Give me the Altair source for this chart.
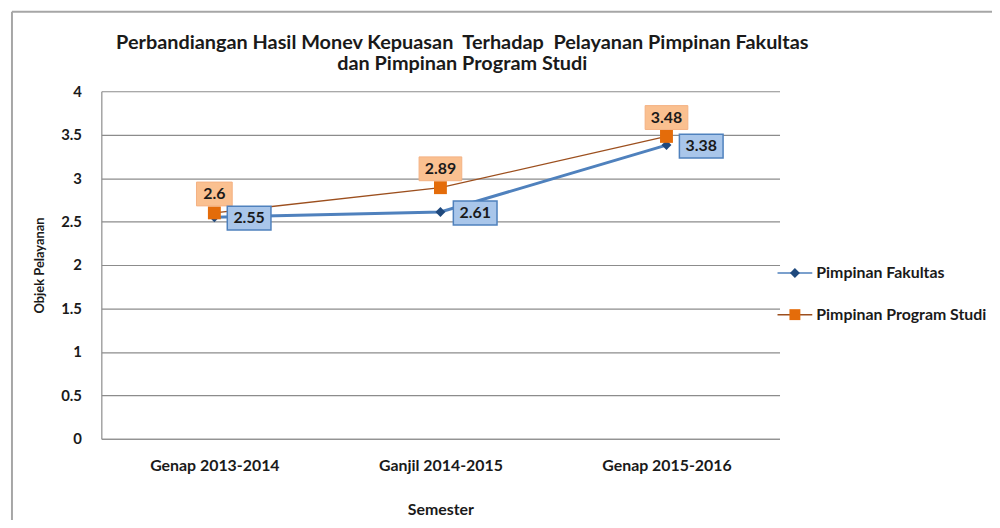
import altair as alt
import pandas as pd

# ---- data ----
semesters = ["Genap 2013-2014", "Ganjil 2014-2015", "Genap 2015-2016"]
series_names = ["Pimpinan Fakultas", "Pimpinan Program Studi"]
fakultas = [2.55, 2.61, 3.38]
prodi = [2.6, 2.89, 3.48]
y_ticks = [0, 0.5, 1, 1.5, 2, 2.5, 3, 3.5, 4]
title_lines = [
    "Perbandiangan Hasil Monev Kepuasan \u00a0Terhadap \u00a0Pelayanan Pimpinan Fakultas",
    "dan Pimpinan Program Studi",
]

rows = []
for name, vals in zip(series_names, [fakultas, prodi]):
    for sem, v in zip(semesters, vals):
        lab = f"{v:g}"
        rows.append({"semester": sem, "series": name, "value": v,
                     "label": lab, "nchar": len(lab)})
df = pd.DataFrame(rows)
df_f = df[df.series == series_names[0]]
df_p = df[df.series == series_names[1]]
df_leg = pd.DataFrame({"series": series_names})

# ---- style ----
FONT = "Lato"
TXT = "#1a1a1a"
GRID = "#8c8c8c"
BLUE_LINE = "#4F81BD"
BLUE_MARK = "#1F497D"
BROWN_LINE = "#9C4F1E"
ORANGE_MARK = "#E46C0A"
ORANGE_BOX = "#FAC090"
ORANGE_BOX_EDGE = "#F4B183"
BLUE_BOX = "#A9C6EA"

W, H = 683, 350

xs = alt.Scale(type="point", domain=semesters, padding=0.5)
ys = alt.Scale(domain=[0, 4], nice=False, zero=True)
color_scale = alt.Scale(domain=series_names, range=[BLUE_LINE, BROWN_LINE])

x_enc = alt.X(
    "semester:N", scale=xs, sort=semesters,
    axis=alt.Axis(title="Semester", labelAngle=0, ticks=False, tickSize=0,
                  labelPadding=19, titlePadding=28, domainColor=GRID,
                  domainWidth=1.2, grid=False,
                  labelFont=FONT, labelFontSize=16, labelFontWeight="bold",
                  labelColor=TXT, titleFont=FONT, titleFontSize=16,
                  titleFontWeight="bold", titleColor=TXT),
)
y_enc = alt.Y(
    "value:Q", scale=ys,
    axis=alt.Axis(title="Objek Pelayanan", values=y_ticks, format="~g",
                  ticks=False, tickSize=0, labelPadding=20, grid=True,
                  gridColor=GRID, gridWidth=1.2, domainColor=GRID,
                  domainWidth=1.2, labelFont=FONT, labelFontSize=15,
                  labelFontWeight="bold", labelColor=TXT, titleFont=FONT,
                  titleFontSize=13, titleFontWeight="bold", titleColor=TXT,
                  titlePadding=14),
)
x_plain = alt.X("semester:N", scale=xs, sort=semesters)
y_plain = alt.Y("value:Q", scale=ys)

lines = alt.Chart(df).mark_line().encode(
    x=x_enc, y=y_enc,
    color=alt.Color("series:N", scale=color_scale, legend=None),
    strokeWidth=alt.StrokeWidth("series:N", scale=alt.Scale(
        domain=series_names, range=[3, 1.4]), legend=None),
    order=alt.Order("series:N", sort="descending"),
)

marks_f = alt.Chart(df_f).mark_point(
    shape="diamond", size=100, filled=True, fill=BLUE_MARK, opacity=1
).encode(x=x_plain, y=y_plain)

marks_p = alt.Chart(df_p).mark_point(
    shape="square", size=169, filled=True, fill=ORANGE_MARK, opacity=1
).encode(x=x_plain, y=y_plain)

# label boxes (custom shapes, offset from the data point)
box_o_wide = "M-1,-1.442H1V-0.326H-1Z"
box_o_narrow = "M-0.837,-1.442H0.837V-0.326H-0.837Z"
box_b = "M0.591,-0.5H2.591V0.591H0.591Z"

boxes_p = alt.Chart(df_p).mark_point(
    size=1849, filled=True, fill=ORANGE_BOX, stroke=ORANGE_BOX_EDGE,
    strokeWidth=1, opacity=1
).encode(x=x_plain, y=y_plain,
         shape=alt.condition("datum.nchar < 4", alt.value(box_o_narrow),
                             alt.value(box_o_wide)))

boxes_f = alt.Chart(df_f).mark_point(
    shape=box_b, size=1936, filled=True, fill=BLUE_BOX, stroke=BLUE_LINE,
    strokeWidth=1.5, opacity=1
).encode(x=x_plain, y=y_plain)

text_p = alt.Chart(df_p).mark_text(
    dy=-19, font=FONT, fontSize=16, fontWeight="bold", color=TXT,
    align="center", baseline="middle"
).encode(x=x_plain, y=y_plain, text="label:N")

text_f = alt.Chart(df_f).mark_text(
    dx=35, dy=1, font=FONT, fontSize=16, fontWeight="bold", color=TXT,
    align="center", baseline="middle"
).encode(x=x_plain, y=y_plain, text="label:N")

# outer chart frame (top and left edge visible in the reference)
frame_top = alt.Chart(df.head(1)).mark_rule(color="#a6a6a6", strokeWidth=2).encode(
    x=alt.value(-90), x2=alt.value(900), y=alt.value(-80))
frame_left = alt.Chart(df.head(1)).mark_rule(color="#a6a6a6", strokeWidth=2).encode(
    x=alt.value(-90), y=alt.value(-80), y2=alt.value(460))

main = alt.layer(frame_top, frame_left, lines, marks_f, marks_p,
                 boxes_p, boxes_f, text_p, text_f)

# ---- legend (drawn as marks on the right) ----
leg_y = alt.Y("series:N", scale=alt.Scale(type="point", domain=series_names,
              range=[183, 225], padding=0), axis=None)
leg_line = alt.Chart(df_leg).mark_rule(strokeWidth=1.5).encode(
    x=alt.value(681), x2=alt.value(716), y=leg_y,
    color=alt.Color("series:N", scale=color_scale, legend=None))
leg_mark = alt.Chart(df_leg).mark_point(filled=True, opacity=1, strokeWidth=0).encode(
    x=alt.value(698.5), y=leg_y,
    shape=alt.Shape("series:N", scale=alt.Scale(domain=series_names,
                    range=["diamond", "square"]), legend=None),
    size=alt.Size("series:N", scale=alt.Scale(domain=series_names,
                  range=[100, 121]), legend=None),
    fill=alt.Fill("series:N", scale=alt.Scale(domain=series_names,
                  range=[BLUE_MARK, ORANGE_MARK]), legend=None))
leg_text = alt.Chart(df_leg).mark_text(
    align="left", baseline="middle", font=FONT, fontSize=16,
    fontWeight="bold", color=TXT
).encode(x=alt.value(720), y=leg_y, text="series:N")

legend_layer = alt.layer(leg_line, leg_mark, leg_text)

chart = alt.layer(main, legend_layer).resolve_scale(
    y="independent"
).properties(
    width=W, height=H,
    title=alt.Title(text=title_lines, font=FONT, fontSize=20,
                    fontWeight="bold", color=TXT, anchor="middle", dx=22,
                    lineHeight=22, offset=-64, frame="group"),
    autosize=alt.AutoSizeParams(type="none"),
    padding={"left": 94, "top": 82, "right": 214, "bottom": 80},
    background="white",
).configure_view(stroke=None)

chart.save("out.html", embed_options={"renderer": "svg", "actions": False})
